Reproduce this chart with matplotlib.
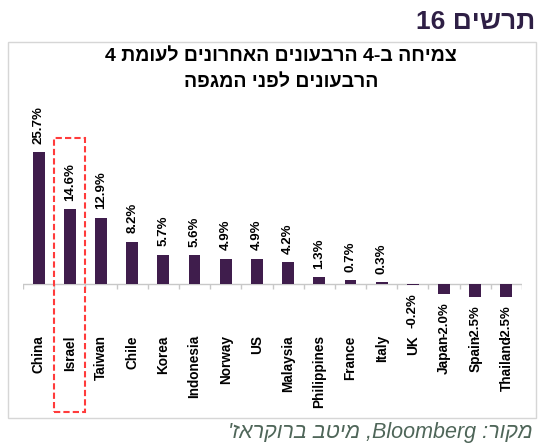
import numpy as np
import matplotlib.pyplot as plt
from matplotlib.patches import Rectangle

plt.rcParams['font.family'] = ['Liberation Sans', 'DejaVu Sans']

countries = ['China', 'Israel', 'Taiwan', 'Chile', 'Korea', 'Indonesia', 'Norway', 'US',
             'Malaysia', 'Philippines', 'France', 'Italy', 'UK', 'Japan', 'Spain', 'Thailand']
growth = [25.7, 14.6, 12.9, 8.2, 5.7, 5.6, 4.9, 4.9, 4.2, 1.3, 0.7, 0.3, -0.2, -2.0, -2.5, -2.5]

# Hebrew texts in visual (left-to-right) order, matplotlib has no bidi
heading = "16 " + "תרשים"[::-1]
title1 = "4 " + "צמיחה ב-4 הרבעונים האחרונים לעומת"[::-1]
title2 = "הרבעונים לפני המגפה"[::-1]
source = "'" + "ברוקראז"[::-1] + " " + "מיטב"[::-1] + " ,Bloomberg :" + "מקור"[::-1]

bar_color = '#3f1d4c'
W, H = 538, 444

fig = plt.figure(figsize=(W / 100, H / 100), dpi=100)
# plot area: axis line x 23..522 px, axes from y 100..331 px
ax = fig.add_axes([23 / W, 1 - 331 / H, (522 - 23) / W, (331 - 100) / H])

x = np.arange(len(countries))
ax.bar(x, growth, width=0.38, color=bar_color, zorder=2)
ax.set_xlim(-0.5, len(countries) - 0.5)
ax.set_ylim(-47 / 5.1, 183 / 5.1)

for s in ax.spines.values():
    s.set_visible(False)
ax.set_yticks([])
ax.axhline(0, color='#c8c8c8', lw=1, zorder=1)
bounds = np.arange(len(countries) + 1) - 0.5
ax.vlines(bounds, -1.0, 0, color='#c8c8c8', lw=1)

ax.set_xticks(x)
ax.set_xticklabels(countries, rotation=90, fontsize=9.8, fontweight='bold', va='top')
ax.tick_params(axis='x', length=0, pad=3)

for xi, v in zip(x, growth):
    if v >= 0:
        ax.annotate(f"{v:.1f}%", (xi, v), xytext=(0, 6), textcoords='offset points',
                    rotation=90, ha='center', va='bottom', fontsize=9.5, fontweight='bold')
    else:
        ax.annotate(f"{v:.1f}%", (xi, v), xytext=(0, -6), textcoords='offset points',
                    rotation=90, ha='center', va='top', fontsize=9.5, fontweight='bold')

# dashed highlight around Israel
ax.add_patch(Rectangle((0.5, -128 / 5.1), 1.0, (411 - 138) / 5.1, fill=False,
                       edgecolor='#ff3b3b', lw=1.5, ls=(0, (3, 1.5)), clip_on=False, zorder=3))

# outer box
fig.add_artist(Rectangle((8 / W, 1 - 418 / H), (536 - 8) / W, (418 - 42) / H,
                         transform=fig.transFigure, fill=False, edgecolor='#d6d6d6', lw=1))

fig.text(535 / W, 1 - 22 / H, heading, ha='right', va='center', fontsize=19,
         fontweight='bold', color='#2e1f45')
fig.text(281 / W, 1 - 56 / H, title1, ha='center', va='center', fontsize=14, fontweight='bold')
fig.text(281 / W, 1 - 82 / H, title2, ha='center', va='center', fontsize=14, fontweight='bold')
fig.text(533 / W, 1 - 432 / H, source, ha='right', va='center', fontsize=15.5,
         style='italic', color='#4f6659')

fig.savefig('out.png', dpi=100)
